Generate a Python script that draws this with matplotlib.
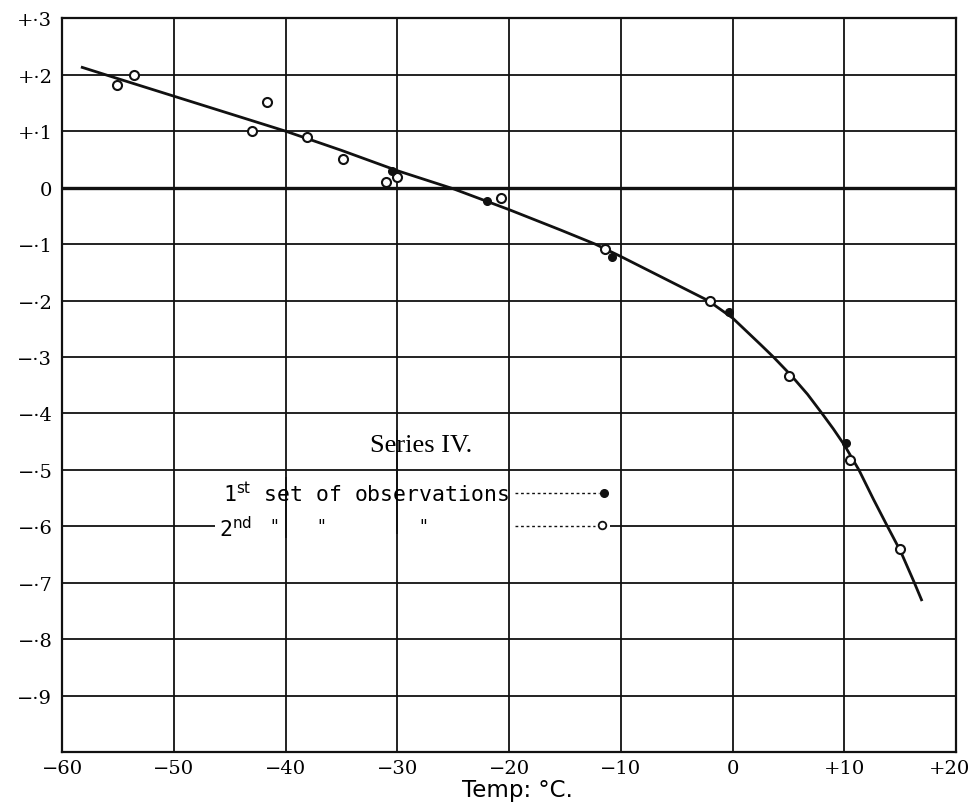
import matplotlib.pyplot as plt
import matplotlib.transforms as mtransforms

# Series IV. -- readings taken off the plate
temp_ticks = [-60, -50, -40, -30, -20, -10, 0, 10, 20]
temp_labels = ["\u221260", "\u221250", "\u221240", "\u221230", "\u221220", "\u221210", "0", "+10", "+20"]
val_ticks = [0.3, 0.2, 0.1, 0.0, -0.1, -0.2, -0.3, -0.4, -0.5, -0.6, -0.7, -0.8, -0.9]
val_labels = ["+\u00b73", "+\u00b72", "+\u00b71", "0", "\u2212\u00b71", "\u2212\u00b72", "\u2212\u00b73",
              "\u2212\u00b74", "\u2212\u00b75", "\u2212\u00b76", "\u2212\u00b77", "\u2212\u00b78", "\u2212\u00b79"]

# 1st set of observations (filled dots)
first_t = [-30.5, -22.0, -10.8, -0.3, 10.1]
first_v = [0.030, -0.023, -0.123, -0.220, -0.453]

# 2nd set of observations (open circles)
second_t = [-55.1, -53.6, -43.0, -41.7, -38.1, -34.9, -31.0, -30.0, -20.7, -11.4, -2.0, 5.0, 10.5, 15.0]
second_v = [0.181, 0.200, 0.101, 0.151, 0.090, 0.051, 0.010, 0.019, -0.018, -0.109, -0.201, -0.334,
            -0.482, -0.640]

# drawn curve
curve_t = [-58.2, -55, -50, -45, -40, -35, -30, -25, -20, -15.4, -12.3, -10, -7.4, -4.0, -2.2, 0,
           2.5, 3.65, 5.3, 6.7, 8.0, 9.0, 10, 11.3, 12.6, 13.8, 15.05, 16.2, 16.9]
curve_v = [0.213, 0.193, 0.162, 0.131, 0.100, 0.066, 0.030, -0.002, -0.039, -0.075, -0.100, -0.122,
           -0.148, -0.182, -0.200, -0.231, -0.278, -0.300, -0.334, -0.366, -0.400, -0.427, -0.456,
           -0.500, -0.552, -0.598, -0.645, -0.697, -0.730]

ink = "#111111"

fig = plt.figure(figsize=(9.71, 8.03), dpi=100)
ax = fig.add_axes([0.064, 0.062, 0.9207, 0.914])
ax.set_xlim(-60, 20)
ax.set_ylim(-1.0, 0.3)

# ruled grid, with the breaks left round the lettering
for t in temp_ticks[1:-1]:
    if t == -40:
        ax.vlines([t, t], [-1.0, -0.620], [-0.513, 0.3], color=ink, lw=1.3, zorder=1)
    elif t == -30:
        ax.vlines([t, t], [-1.0, -0.613], [-0.430, 0.3], color=ink, lw=1.3, zorder=1)
    else:
        ax.vlines(t, -1.0, 0.3, color=ink, lw=1.3, zorder=1)
for v in val_ticks[1:]:
    if abs(v + 0.6) < 1e-9:
        ax.hlines([v, v], [-60, -10.96], [-46.3, 20], color=ink, lw=1.3, zorder=1)
    elif v == 0.0:
        ax.hlines(v, -60, 20, color=ink, lw=2.4, zorder=1)
    else:
        ax.hlines(v, -60, 20, color=ink, lw=1.3, zorder=1)

for s in ax.spines.values():
    s.set_linewidth(1.6)
    s.set_color(ink)

ax.set_xticks(temp_ticks)
ax.set_xticklabels(temp_labels, family="DejaVu Serif", fontsize=14)
ax.set_yticks(val_ticks)
ax.set_yticklabels(val_labels, family="DejaVu Serif", fontsize=14)
ax.tick_params(axis="x", length=0, pad=5)
ax.tick_params(axis="y", length=0, pad=7)
last = ax.get_xticklabels()[-1]
last.set_transform(last.get_transform() + mtransforms.ScaledTranslation(-0.07, 0, fig.dpi_scale_trans))

ax.plot(curve_t, curve_v, color=ink, lw=2.0, zorder=3)
ax.plot(second_t, second_v, "o", ms=6.5, mfc="white", mec=ink, mew=1.5, zorder=4)
ax.plot(first_t, first_v, "o", ms=5.5, mfc=ink, mec=ink, zorder=4)

# key
ax.text(-27.9, -0.455, "Series IV.", family="Liberation Serif", fontsize=19, ha="center", va="center")
ax.text(-45.6, -0.540, r"1$^{\mathrm{st}}$ set of observations", family="DejaVu Sans Mono",
        fontsize=15.5, ha="left", va="center")
ax.plot([-19.5, -12.0], [-0.540, -0.540], color=ink, lw=1.0, ls=(0, (2, 2)))
ax.plot([-11.5], [-0.540], "o", ms=5.5, mfc=ink, mec=ink)
ax.text(-46.0, -0.602, r"2$^{\mathrm{nd}}$", family="DejaVu Sans Mono", fontsize=15.5, ha="left",
        va="center")
for q in [-41.0, -36.8, -27.7]:
    ax.text(q, -0.600, '"', family="DejaVu Sans", fontsize=12, ha="center", va="center")
ax.plot([-19.5, -12.3], [-0.600, -0.600], color=ink, lw=1.0, ls=(0, (2, 2)))
ax.plot([-11.7], [-0.597], "o", ms=5.5, mfc="white", mec=ink, mew=1.3)

fig.text(462 / 971, 1 - 797 / 803, "Temp: \u00b0C.", family="DejaVu Sans", fontsize=16.5,
         ha="left", va="baseline")

fig.savefig("out.png", dpi=100)
